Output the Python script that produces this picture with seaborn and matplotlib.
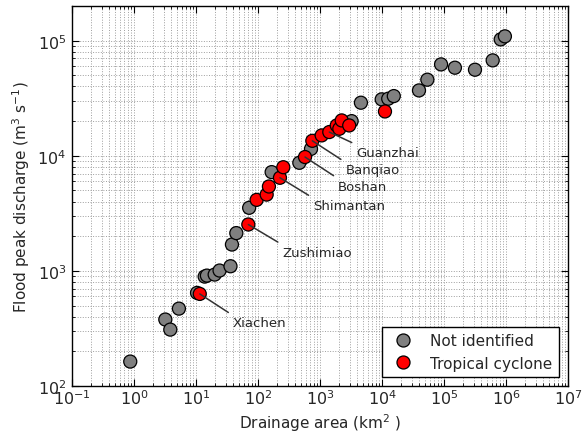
import matplotlib
matplotlib.use('Agg')
import matplotlib.pyplot as plt
import matplotlib.ticker as mticker
import seaborn as sns
import pandas as pd

# ---- data ----
gray_area = [0.87, 3.2, 3.85, 5.3, 10.4, 13.8, 15, 20, 24, 36, 38, 44.7, 72, 166,
             464, 716, 3236, 4570, 9890, 12600, 15500, 39500, 53900, 89700,
             150000, 316000, 610000, 822000, 960000]
gray_peak = [163, 378, 309, 470, 644, 892, 910, 929, 1007, 1097, 1694, 2129, 3532, 7210,
             8690, 11470, 19990, 28900, 30900, 31300, 33000, 36950, 45800, 62200,
             58200, 55900, 67400, 102600, 109000]
red_area = [11.5, 69.8, 95, 138, 150, 226, 256, 573, 752, 1064, 1412, 1862, 2050, 2240,
            2960, 11170]
red_peak = [631, 2529, 4140, 4600, 5407, 6440, 7950, 9750, 13490, 15030, 16070, 18340,
            17160, 20280, 18340, 24270]
categories = ["Not identified", "Tropical cyclone"]
station_names = ["Xiachen", "Zushimiao", "Shimantan", "Boshan", "Banqiao", "Guanzhai"]
station_index = [0, 1, 5, 7, 8, 10]   # indices into red arrays
x_ticks = [10.0 ** k for k in range(-1, 8)]
y_ticks = [10.0 ** k for k in range(2, 6)]

df = pd.DataFrame({
    "area": gray_area + red_area,
    "peak": gray_peak + red_peak,
    "type": [categories[0]] * len(gray_area) + [categories[1]] * len(red_area),
})

sns.set_style("ticks")
plt.rcParams["font.family"] = ["DejaVu Sans"]
plt.rcParams["mathtext.fontset"] = "dejavusans"

fig = plt.figure(figsize=(5.84, 4.35), dpi=100)
ax = fig.add_axes([72 / 584, 1 - 387 / 435, 496 / 584, 380 / 435])

sns.scatterplot(data=df, x="area", y="peak", hue="type",
                palette={categories[0]: "#808080", categories[1]: "#ff0000"},
                s=88, edgecolor="black", linewidth=0.9, ax=ax, zorder=3)

ax.set_xscale("log")
ax.set_yscale("log")
ax.set_xlim(0.1, 1e7)
ax.set_ylim(100, 2e5)
ax.set_xticks(x_ticks)
ax.set_yticks(y_ticks)
ax.xaxis.set_minor_locator(mticker.LogLocator(base=10, subs=range(2, 10), numticks=100))
ax.yaxis.set_minor_locator(mticker.LogLocator(base=10, subs=range(2, 10), numticks=100))
ax.xaxis.set_minor_formatter(mticker.NullFormatter())
ax.yaxis.set_minor_formatter(mticker.NullFormatter())

ax.grid(True, which="both", ls=":", color="0.62", lw=0.7, zorder=0)
ax.set_axisbelow(True)
ax.tick_params(which="both", direction="in", top=True, right=True, color="black")
ax.tick_params(which="major", length=5, labelsize=11.5)
ax.tick_params(axis="x", which="major", pad=2)
ax.tick_params(axis="y", which="major", pad=4)
ax.tick_params(which="minor", length=2.5)
for sp in ax.spines.values():
    sp.set_color("black")
    sp.set_linewidth(1.0)

ax.set_xlabel("Drainage area (km$^2$ )", fontsize=11, labelpad=3)
ax.set_ylabel("Flood peak discharge (m$^3$ s$^{-1}$)", fontsize=11)

offsets = [(33, -29), (34, -28), (33, -28), (33, -29), (33, -29), (27, -20)]
for name, idx, off in zip(station_names, station_index, offsets):
    ax.annotate(name, xy=(red_area[idx], red_peak[idx]), xytext=off,
                textcoords="offset pixels", ha="left", va="center",
                fontsize=9.5, color="0.15", zorder=4,
                arrowprops=dict(arrowstyle="-", color="0.2", lw=1.1,
                                relpos=(0.03, 1.0), shrinkA=1, shrinkB=0))

handles, labels = ax.get_legend_handles_labels()
leg = ax.legend(handles, labels, loc="lower right", fontsize=11, frameon=True,
                fancybox=False, edgecolor="black", framealpha=1,
                borderaxespad=0.6, handletextpad=0.8, markerscale=1.0)
leg.get_frame().set_linewidth(1.0)

fig.savefig("out.png", dpi=100)
